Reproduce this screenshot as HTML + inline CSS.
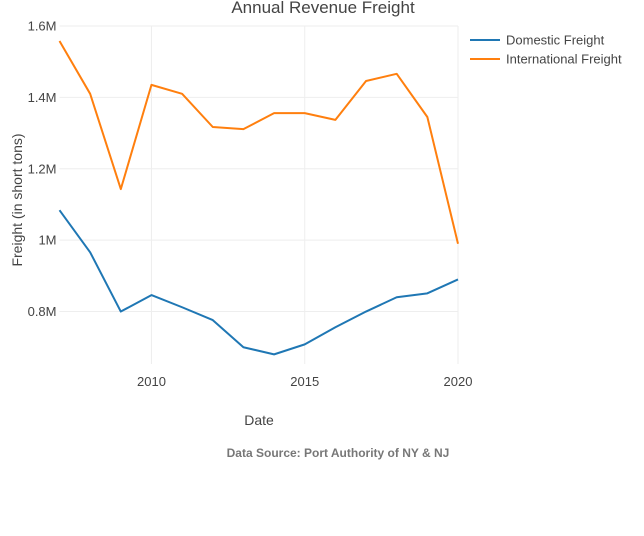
<!DOCTYPE html>
<html><head><meta charset="utf-8"><style>
body{margin:0;background:#fff;font-family:"Liberation Sans",sans-serif;}
svg text{font-family:"Liberation Sans",sans-serif;}
</style></head><body>
<svg id="chart" width="644" height="531" xmlns="http://www.w3.org/2000/svg">
<text x="323" y="13" text-anchor="middle" font-size="17" fill="#444">Annual Revenue Freight</text>
<g id="grid"></g><g id="xt"></g><g id="yt"></g><g id="lines"></g>
<text transform="translate(22,200) rotate(-90)" text-anchor="middle" font-size="14" fill="#444">Freight (in short tons)</text>
<text x="259" y="425" text-anchor="middle" font-size="14" fill="#444">Date</text>
<text x="338" y="457" text-anchor="middle" font-size="12" font-weight="bold" fill="#777">Data Source: Port Authority of NY &amp; NJ</text>
<g>
<g><line x1="470" y1="40" x2="500" y2="40" stroke="#1f77b4" stroke-width="2"/><text x="506" y="44.5" font-size="13" fill="#444">Domestic Freight</text></g>
<g><line x1="470" y1="59" x2="500" y2="59" stroke="#ff7f0e" stroke-width="2"/><text x="506" y="63.5" font-size="13" fill="#444">International Freight</text></g>
</g>
</svg>
<script>
const years=[2007,2008,2009,2010,2011,2012,2013,2014,2015,2016,2017,2018,2019,2020];
const domestic=[1084000,966000,800000,846000,812000,776000,700000,680000,708000,756000,800000,840000,851000,890000];
const international=[1558000,1410000,1143000,1435000,1410000,1317000,1311000,1356000,1356000,1337000,1446000,1466000,1345000,990000];
const xTicks=[2010,2015,2020];
const yTicks=[800000,1000000,1200000,1400000,1600000];
const yTickLabels=["0.8M","1M","1.2M","1.4M","1.6M"];
const NS="http://www.w3.org/2000/svg";
const X0=59.5,X1=458,Y0=364,Y1=26;
const xMin=2007,xMax=2020,yMin=653000,yMax=1600000;
function xs(v){return X0+(v-xMin)/(xMax-xMin)*(X1-X0);}
function ys(v){return Y0-(v-yMin)/(yMax-yMin)*(Y0-Y1);}
function mk(t,a,p){const e=document.createElementNS(NS,t);for(const k in a)e.setAttribute(k,a[k]);p.appendChild(e);return e;}
const grid=document.getElementById('grid'),xt=document.getElementById('xt'),yt=document.getElementById('yt'),lines=document.getElementById('lines');
yTicks.forEach((v,i)=>{
 const l=mk('line',{x1:X0,x2:X1,y1:ys(v),y2:ys(v),stroke:'#eee','stroke-width':1},grid);
 
 
 const t=mk('text',{x:X0-3,y:ys(v)+4.5,'text-anchor':'end','font-size':13,fill:'#444'},yt);
 t.textContent=yTickLabels[i];
 
 
});
xTicks.forEach(v=>{
 const l=mk('line',{x1:xs(v),x2:xs(v),y1:Y1,y2:Y0,stroke:'#eee','stroke-width':1},grid);
 
 
 const t=mk('text',{x:xs(v),y:386,'text-anchor':'middle','font-size':13,fill:'#444'},xt);
 t.textContent=v;
 
 
});
function series(vals,color,name){
 const p=mk('polyline',{points:years.map((y,i)=>xs(y)+','+ys(vals[i])).join(' '),fill:'none',stroke:color,'stroke-width':2,'stroke-linejoin':'round'},lines);
 
 
}
series(domestic,'#1f77b4','domestic-freight-line');
series(international,'#ff7f0e','international-freight-line');
</script>
</body></html>
